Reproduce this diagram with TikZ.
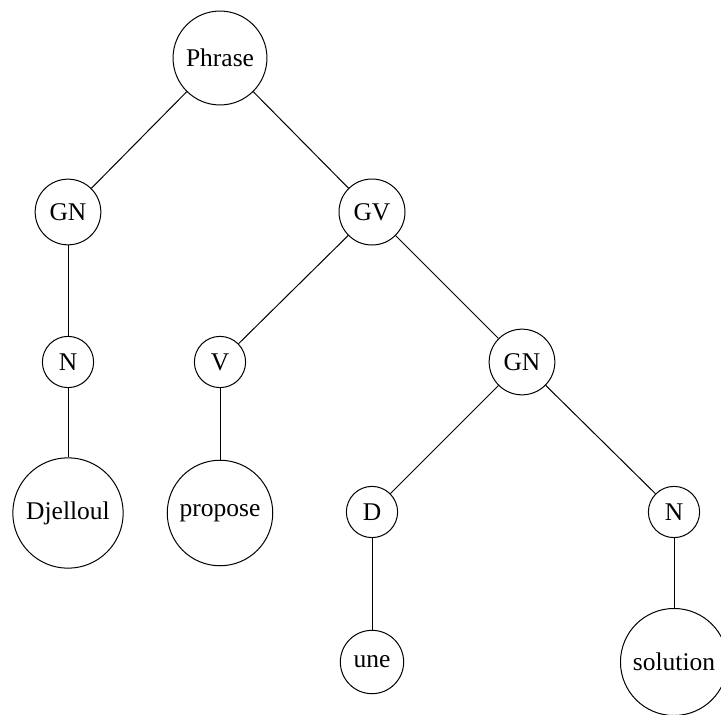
\documentclass[tikz,border=0pt]{standalone}
\usepackage{fontspec}
\setmainfont{Liberation Serif}
\begin{document}
\begin{tikzpicture}[x=1pt,y=-1pt,
  word/.style={circle,draw,line width=1pt,inner sep=9.3pt,font=\fontsize{25.5}{30}\selectfont},
  edge/.style={line width=1pt}]
\useasboundingbox (0,0) rectangle (721,715);
% phrase tree
\node[word] (s)    at (220,58)  {Phrase};
\node[word] (gn1)  at (68,212)  {GN};
\node[word] (gv)   at (372,212) {GV};
\node[word] (n1)   at (68,362)  {N};
\node[word] (v)    at (220,362) {V};
\node[word] (gn2)  at (522,362) {GN};
\node[word] (dj)   at (68,513)  {Djelloul};
\node[word] (prop) at (220,513) {propose};
\node[word] (d)    at (372,512) {D};
\node[word] (n2)   at (674,512) {N};
\node[word] (une)  at (372,662) {une};
\node[word] (sol)  at (674,662) {solution};
\draw[edge] (s) -- (gn1);
\draw[edge] (s) -- (gv);
\draw[edge] (gn1) -- (n1);
\draw[edge] (n1) -- (dj);
\draw[edge] (gv) -- (v);
\draw[edge] (gv) -- (gn2);
\draw[edge] (v) -- (prop);
\draw[edge] (gn2) -- (d);
\draw[edge] (gn2) -- (n2);
\draw[edge] (d) -- (une);
\draw[edge] (n2) -- (sol);
\end{tikzpicture}
\end{document}
